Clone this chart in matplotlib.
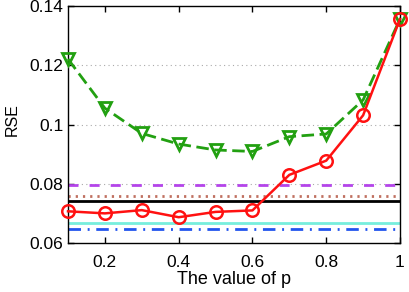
import matplotlib
matplotlib.use("Agg")
import matplotlib.pyplot as plt

p = [0.1, 0.2, 0.3, 0.4, 0.5, 0.6, 0.7, 0.8, 0.9, 1.0]
red_vals = [0.0707, 0.0700, 0.0711, 0.0687, 0.0705, 0.0710, 0.0830, 0.0878, 0.1031, 0.1356]
green_vals = [0.1221, 0.1055, 0.0970, 0.0934, 0.0914, 0.0909, 0.0959, 0.0968, 0.1083, 0.1356]
purple_level = 0.0795
brown_level = 0.0757
black_level = 0.0741
cyan_level = 0.0666
blue_level = 0.0648
xticks = [0.2, 0.4, 0.6, 0.8, 1.0]
xticklabels = ["0.2", "0.4", "0.6", "0.8", "1"]
yticks = [0.06, 0.08, 0.10, 0.12, 0.14]
yticklabels = ["0.06", "0.08", "0.1", "0.12", "0.14"]

plt.rcParams['font.family'] = ['Liberation Sans', 'DejaVu Sans']
fig = plt.figure(figsize=(4.09, 2.92), dpi=100)
ax = fig.add_axes([68/409, 1-243/292, (400-68)/409, (243-6)/292])

for y in [0.08, 0.10, 0.12]:
    ax.axhline(y, color='#aaaaaa', linestyle=(0, (1, 3)), linewidth=0.8, zorder=0)

ax.axhline(purple_level, color='#b444ea', linestyle=(0, (3.6, 4)), linewidth=2)
ax.axhline(brown_level, color='#c07060', linestyle=(0, (0.8, 1.8)), linewidth=2)
ax.axhline(black_level, color='black', linestyle='-', linewidth=2)
ax.axhline(cyan_level, color='#77eedd', linestyle='-', linewidth=2)
ax.axhline(blue_level, color='#2255ee', linestyle=(0, (4.5, 2.4, 0.7, 2.4)), linewidth=2)

ax.plot(p, green_vals, color='#22a011', linestyle=(0, (4.5, 2)), linewidth=2,
        marker='v', markersize=9, markerfacecolor='none', markeredgewidth=2,
        markeredgecolor='#22a011', clip_on=False, zorder=4)
ax.plot(p, red_vals, color='#ff1111', linestyle='-', linewidth=1.8,
        marker='o', markersize=9, markerfacecolor='none', markeredgewidth=1.8,
        markeredgecolor='#ff1111', clip_on=False, zorder=5)

ax.set_xlim(0.1, 1.0)
ax.set_ylim(0.06, 0.14)
ax.set_xticks(xticks)
ax.set_xticklabels(xticklabels)
ax.set_yticks(yticks)
ax.set_yticklabels(yticklabels)
ax.tick_params(direction='in', top=True, right=True, labelsize=12.5, length=4, width=1)
ax.tick_params(axis='x', pad=8.3)
ax.set_xlabel("The value of p", fontsize=13, labelpad=1)
ax.set_ylabel("RSE", fontsize=11.5)
ax.yaxis.set_label_coords(-0.145, 0.52)
for s in ax.spines.values():
    s.set_linewidth(1)

fig.savefig("out.png", dpi=100)
